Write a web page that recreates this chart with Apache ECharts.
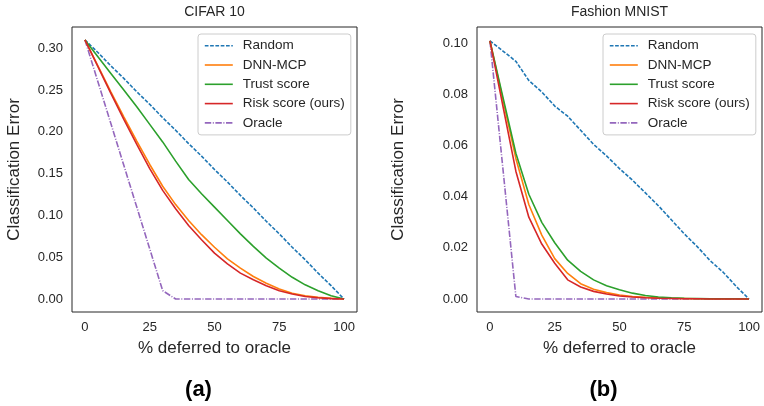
<!DOCTYPE html>
<html>
<head>
<meta charset="utf-8">
<script src="https://cdn.jsdelivr.net/npm/echarts@6/dist/echarts.min.js"></script>
<style>html,body{margin:0;padding:0;background:#fff}#c{width:764px;height:406px}</style>
</head>
<body>
<div id="c"></div>
<script>
// ---- data ----
const deferred = [0,5,10,15,20,25,30,35,40,45,50,55,60,65,70,75,80,85,90,95,100];
const xTicks = [0,25,50,75,100];
const cifarYTicks = [0,0.05,0.10,0.15,0.20,0.25,0.30];
const fashionYTicks = [0,0.02,0.04,0.06,0.08,0.10];
const seriesNames = ['Random','DNN-MCP','Trust score','Risk score (ours)','Oracle'];

const cifarRandom = [0.31,0.295,0.279,0.264,0.248,0.233,0.217,0.202,0.186,0.171,0.155,0.140,0.124,0.109,0.093,0.078,0.062,0.047,0.031,0.016,0.0];
const cifarDnnMcp = [0.31,0.279,0.248,0.218,0.189,0.161,0.135,0.113,0.094,0.077,0.062,0.048,0.037,0.027,0.019,0.012,0.007,0.004,0.002,0.001,0.0];
const cifarTrust  = [0.31,0.29,0.27,0.25,0.23,0.209,0.188,0.165,0.143,0.126,0.11,0.094,0.078,0.063,0.049,0.037,0.026,0.017,0.010,0.004,0.0];
const cifarRisk   = [0.31,0.278,0.246,0.215,0.185,0.156,0.13,0.108,0.088,0.071,0.055,0.042,0.031,0.023,0.016,0.010,0.006,0.003,0.0015,0.0005,0.0];
const cifarOracle = [0.31,0.26,0.21,0.16,0.11,0.06,0.01,0,0,0,0,0,0,0,0,0,0,0,0,0,0];

const fashionRandom = [0.101,0.097,0.093,0.0855,0.081,0.0755,0.0715,0.066,0.0605,0.056,0.051,0.0465,0.0415,0.0365,0.031,0.0255,0.0205,0.015,0.0105,0.005,0.0];
const fashionDnnMcp = [0.101,0.078,0.055,0.037,0.025,0.0158,0.010,0.006,0.0038,0.0025,0.0016,0.001,0.0007,0.0005,0.0003,0.0002,0.0001,0.0001,0.0001,0.0001,0.0];
const fashionTrust  = [0.101,0.079,0.057,0.041,0.030,0.022,0.0152,0.0108,0.0075,0.0052,0.0036,0.0023,0.0014,0.0008,0.0005,0.0003,0.0002,0.0001,0.0001,0.0001,0.0];
const fashionRisk   = [0.101,0.0755,0.050,0.032,0.0215,0.014,0.0075,0.0047,0.003,0.002,0.0012,0.0008,0.0005,0.0003,0.0002,0.0001,0.0001,0.0,0.0,0.0,0.0];
const fashionOracle = [0.101,0.051,0.001,0,0,0,0,0,0,0,0,0,0,0,0,0,0,0,0,0,0];

// ---- styles ----
const FONT = 'Liberation Sans, Arial, Helvetica, sans-serif';
const TXT = '#262626';
const colors = ['#1f77b4','#ff7f0e','#2ca02c','#d62728','#9467bd'];
const dashes = [[3.7,1.6],'solid','solid','solid',[6.4,1.6,1,1.6]];

function pairs(ys){ return deferred.map((x,i)=>[x,ys[i]]); }

function mkSeries(idx, sets){
  return sets.map((ys,k)=>({
    name: seriesNames[k], type:'line', xAxisIndex: idx, yAxisIndex: idx,
    data: pairs(ys), symbol:'none', showSymbol:false, animation:false,
    lineStyle:{color: colors[k], width:1.6, type: dashes[k]},
    itemStyle:{color: colors[k]},
    z: k===4 ? 1 : 2 + k
  }));
}

const grids = [
  {left:72, top:27, width:285, height:285, show:true, borderColor:'#262626', borderWidth:1, backgroundColor:'#fff'},
  {left:477, top:27, width:285, height:285, show:true, borderColor:'#262626', borderWidth:1, backgroundColor:'#fff'}
];

function xAx(i){
  return {type:'value', gridIndex:i, min:-5, max:105,
    axisLine:{show:false}, axisTick:{show:false}, splitLine:{show:false},
    axisLabel:{customValues: xTicks, color:TXT, fontSize:13, fontFamily:FONT, margin:9},
    name:'% deferred to oracle', nameLocation:'middle', nameGap:28,
    nameTextStyle:{color:TXT, fontSize:17, fontFamily:FONT}};
}
function yAx(i, min, max, ticks, gap){
  return {type:'value', gridIndex:i, min:min, max:max,
    axisLine:{show:false}, axisTick:{show:false}, splitLine:{show:false},
    axisLabel:{customValues: ticks, color:TXT, fontSize:13, fontFamily:FONT, margin:9,
      formatter:v=>v.toFixed(2)},
    name:'Classification Error', nameLocation:'middle', nameGap:gap,
    nameTextStyle:{color:TXT, fontSize:17, fontFamily:FONT}};
}

function legend(left){
  return {left:left, top:34, orient:'vertical', data: seriesNames,
    itemWidth:28, itemHeight:14, itemGap:5.3, padding:[4.7,6,5,6],
    itemStyle:{opacity:0},
    lineStyle:{width:1.6},
    backgroundColor:'rgba(255,255,255,0.85)', borderColor:'#cccccc', borderWidth:1, borderRadius:3,
    textStyle:{color:TXT, fontSize:13.5, fontFamily:FONT, padding:[0,0,0,5]},
    selectedMode:false, z:10};
}

const option = {
  animation:false,
  backgroundColor:'#fff',
  title:[
    {text:'CIFAR 10', left:214.5, top:5, textAlign:'center', padding:0, textStyle:{color:TXT, fontSize:14, fontWeight:'normal', fontFamily:FONT}},
    {text:'Fashion MNIST', left:619.5, top:5, textAlign:'center', padding:0, textStyle:{color:TXT, fontSize:14, fontWeight:'normal', fontFamily:FONT}},
    {text:'(a)', left:198.5, top:379, textAlign:'center', padding:0, textStyle:{color:'#000', fontSize:22, fontWeight:'bold', fontFamily:FONT}},
    {text:'(b)', left:603.5, top:379, textAlign:'center', padding:0, textStyle:{color:'#000', fontSize:22, fontWeight:'bold', fontFamily:FONT}}
  ],
  grid: grids,
  xAxis:[xAx(0), xAx(1)],
  yAxis:[yAx(0,-0.0155,0.3255,cifarYTicks,49), yAx(1,-0.00507,0.1064,fashionYTicks,70)],
  legend:[legend(198), legend(603)],
  series:[
    ...mkSeries(0,[cifarRandom,cifarDnnMcp,cifarTrust,cifarRisk,cifarOracle]),
    ...mkSeries(1,[fashionRandom,fashionDnnMcp,fashionTrust,fashionRisk,fashionOracle])
  ]
};
const chart = echarts.init(document.getElementById('c'), null, {renderer:'canvas'});
chart.setOption(option);
</script>
</body>
</html>
